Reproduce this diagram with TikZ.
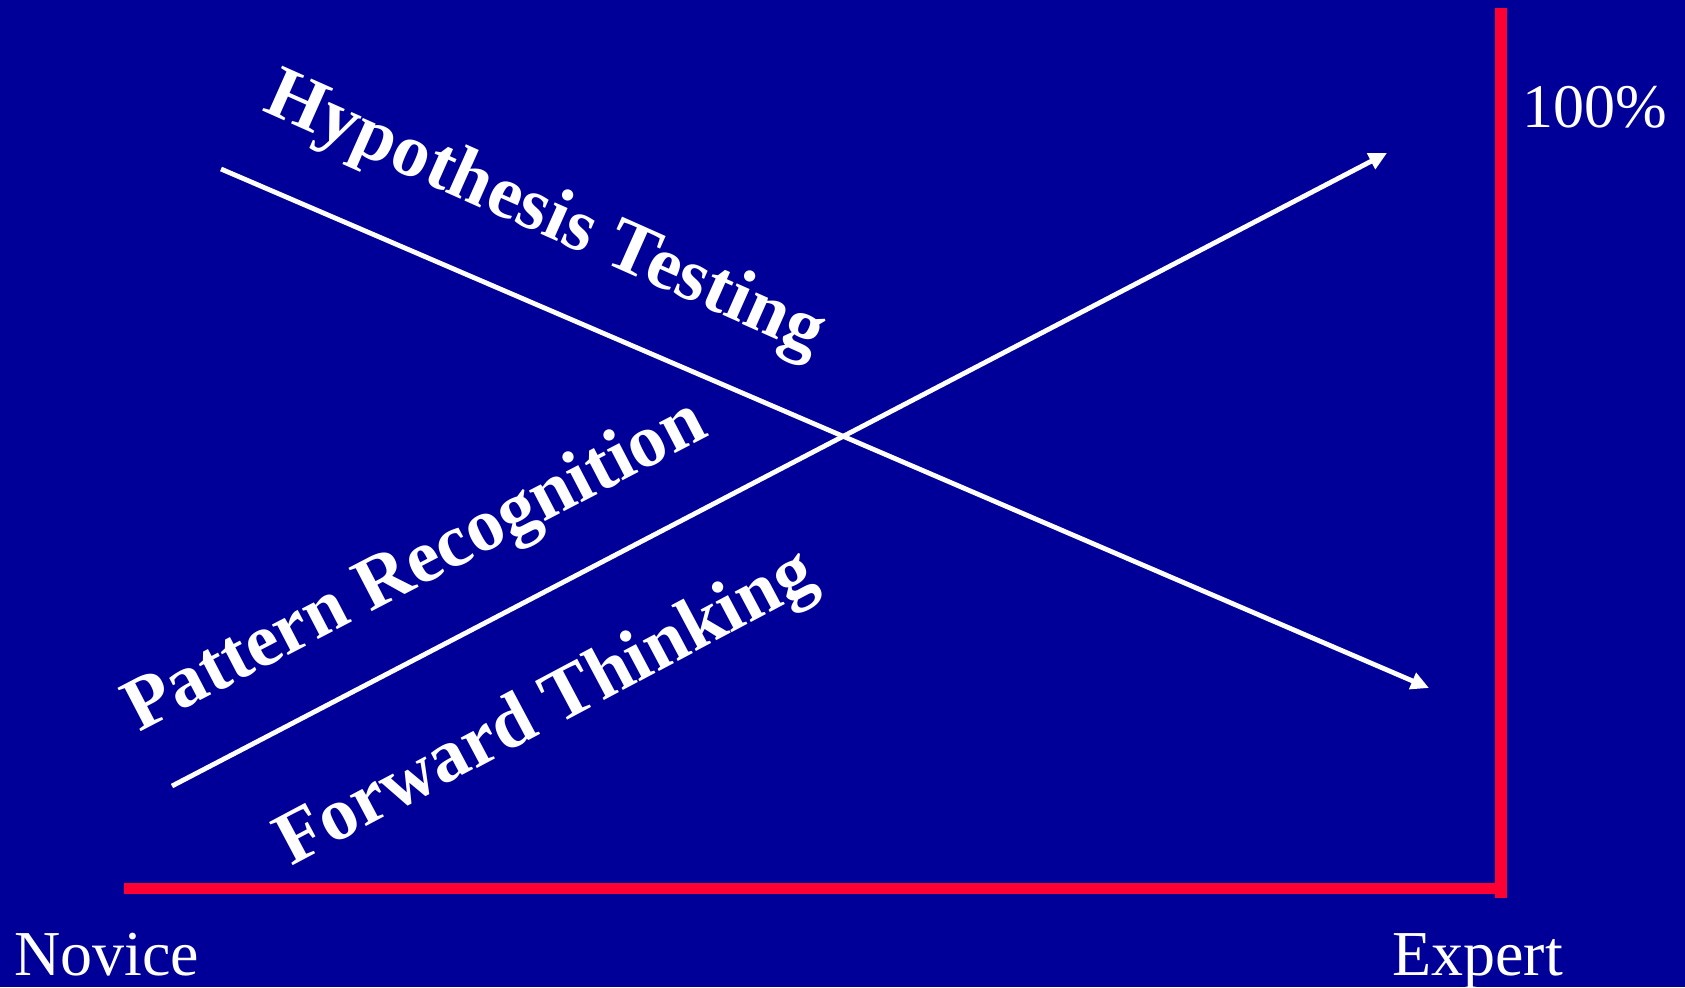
\documentclass[tikz,border=0pt]{standalone}
\usepackage{fontspec}
\setmainfont{Liberation Serif}
\usetikzlibrary{arrows.meta}
\definecolor{slideblue}{RGB}{0,0,153}
\definecolor{axisred}{RGB}{255,0,51}

\begin{document}
\begin{tikzpicture}[x=1pt,y=-1pt,
    axis/.style={draw=axisred,line width=11.5pt},
    trend/.style={draw=white,line width=4.8pt,-{Triangle[length=18pt,width=17pt]}},
    strategy/.style={text=white,font=\bfseries\fontsize{75pt}{82pt}\selectfont,inner sep=0pt,anchor=base west},
    level/.style={text=white,font=\fontsize{64pt}{72pt}\selectfont,inner sep=0pt,anchor=base west}]
    \fill[slideblue] (0,0) rectangle (1685,987);
    \useasboundingbox (0,0) rectangle (1685,987);
    % axes
    \coordinate (ax-left) at (124,888.5);
    \coordinate (ax-right) at (1495,888.5);
    \coordinate (ax-top) at (1501,8);
    \coordinate (ax-bottom) at (1501,898);
    \draw[axis] (ax-left) -- (ax-right);
    \draw[axis] (ax-bottom) -- (ax-top);
    % trends
    \coordinate (ht-start) at (221,169);
    \coordinate (ht-end) at (1429,688);
    \coordinate (pr-start) at (172,786);
    \coordinate (pr-end) at (1387,153);
    \draw[trend] (ht-start) -- (ht-end);
    \draw[trend] (pr-start) -- (pr-end);
    % labels
    \node[strategy,rotate=-24] (hyp) at (261,110) {Hypothesis Testing};
    \node[strategy,rotate=27.5] (pat) at (139,733) {Pattern Recognition};
    \node[strategy,rotate=28] (fwd) at (291,867) {Forward Thinking};
    \node[level] (novice) at (14,975) {Novice};
    \node[level] (expert) at (1392,975) {Expert};
    \node[level,font=\fontsize{62pt}{70pt}\selectfont] (full) at (1522,128) {100\%};
\end{tikzpicture}
\end{document}
